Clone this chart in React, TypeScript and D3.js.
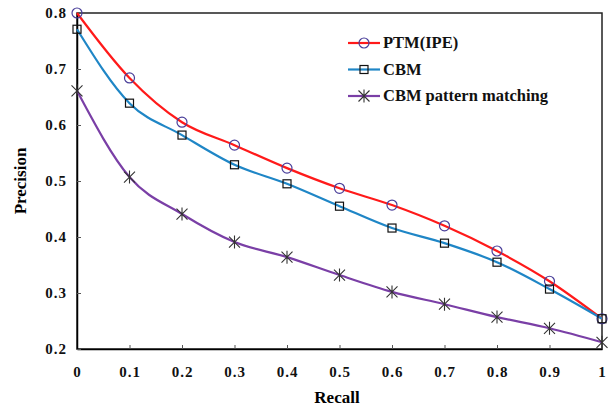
import React, { useRef, useEffect } from "react";
import * as d3 from "d3";

const recall = [0, 0.1, 0.2, 0.3, 0.4, 0.5, 0.6, 0.7, 0.8, 0.9, 1];
const ptm = [0.8, 0.684, 0.605, 0.564, 0.523, 0.487, 0.457, 0.42, 0.375, 0.321, 0.254];
const cbm = [0.771, 0.639, 0.582, 0.529, 0.495, 0.455, 0.416, 0.389, 0.355, 0.307, 0.254];
const cbmPattern = [0.661, 0.507, 0.441, 0.391, 0.364, 0.332, 0.302, 0.28, 0.257, 0.237, 0.212];
const yTicks = [0.2, 0.3, 0.4, 0.5, 0.6, 0.7, 0.8];
const seriesNames = ["PTM(IPE)", "CBM", "CBM pattern matching"];

const App = () => {
  const ref = useRef<SVGSVGElement>(null);

  useEffect(() => {
    const width = 612;
    const height = 407;
    const m = { left: 77, right: 10, top: 13, bottom: 58 };

    const svg = d3.select(ref.current);
    svg.selectAll("*").remove();

    const x = d3.scaleLinear().domain([0, 1]).range([m.left, width - m.right]);
    const y = d3.scaleLinear().domain([0.2, 0.8]).range([height - m.bottom, m.top]);

    const font = "'Liberation Serif', 'Times New Roman', serif";

    // frame
    svg
      .append("rect")
      .attr("x", x(0))
      .attr("y", y(0.8))
      .attr("width", x(1) - x(0))
      .attr("height", y(0.2) - y(0.8))
      .attr("fill", "none")
      .attr("stroke", "#222")
      .attr("stroke-width", 1.5);

    // axes
    const xAxis = svg
      .append("g")
      .attr("transform", `translate(0,${y(0.2)})`)
      .call(
        d3
          .axisBottom(x)
          .tickValues(recall)
          .tickSizeInner(-4)
          .tickSizeOuter(0)
          .tickPadding(17)
          .tickFormat((d) => d3.format("")(+(+d).toFixed(1)))
      );
    const yAxis = svg
      .append("g")
      .attr("transform", `translate(${x(0)},0)`)
      .call(
        d3
          .axisLeft(y)
          .tickValues(yTicks)
          .tickSizeInner(-4)
          .tickSizeOuter(0)
          .tickPadding(10)
          .tickFormat(d3.format(".1f"))
      );
    [xAxis, yAxis].forEach((a) => {
      a.select(".domain").attr("stroke", "#000").attr("stroke-width", 1.5);
      a.selectAll(".tick line").attr("stroke", "#555");
      a.selectAll("text")
        .attr("fill", "#111")
        .style("font-family", font)
        .style("font-size", "15px")
        .style("letter-spacing", "1px")
        .style("font-weight", "bold");
    });

    svg
      .append("text")
      .attr("x", 137)
      .attr("y", 403)
      .attr("text-anchor", "middle")
      .attr("transform", "translate(200,0)")
      .style("font-family", font)
      .style("font-size", "17px")
      .style("font-weight", "bold")
      .text("Recall");
    svg
      .append("text")
      .attr("transform", `translate(26,${(y(0.2) + y(0.8)) / 2}) rotate(-90)`)
      .attr("text-anchor", "middle")
      .style("font-family", font)
      .style("font-size", "17px")
      .style("font-weight", "bold")
      .text("Precision");

    const series = [
      { name: seriesNames[0], values: ptm, color: "#ff1a1a", marker: "circle" },
      { name: seriesNames[1], values: cbm, color: "#1f86c6", marker: "square" },
      { name: seriesNames[2], values: cbmPattern, color: "#7a3fa6", marker: "star" },
    ];

    const line = d3
      .line<number>()
      .x((_, i) => x(recall[i]))
      .y((d) => y(d))
      .curve(d3.curveMonotoneX);

    const drawMarker = (g: any, type: string, cx: number, cy: number) => {
      if (type === "circle") {
        g.append("circle")
          .attr("cx", cx)
          .attr("cy", cy)
          .attr("r", 5)
          .attr("fill", "none")
          .attr("stroke", "#4a3f9a")
          .attr("stroke-width", 1.2);
      } else if (type === "square") {
        g.append("rect")
          .attr("x", cx - 4)
          .attr("y", cy - 4)
          .attr("width", 8)
          .attr("height", 8)
          .attr("fill", "none")
          .attr("stroke", "#111")
          .attr("stroke-width", 1.2);
      } else {
        const s = 5.5;
        g.append("path")
          .attr(
            "d",
            `M${cx - s},${cy - s}L${cx + s},${cy + s}M${cx - s},${cy + s}L${cx + s},${cy - s}M${cx},${cy - s - 1}L${cx},${cy + s + 1}`
          )
          .attr("stroke", "#333")
          .attr("stroke-width", 1.1);
      }
    };

    series.forEach((s) => {
      svg
        .append("path")
        .datum(s.values)
        .attr("d", line)
        .attr("fill", "none")
        .attr("stroke", s.color)
        .attr("stroke-width", 2.2);
    });
    series.forEach((s) => {
      const g = svg.append("g");
      s.values.forEach((v, i) => drawMarker(g, s.marker, x(recall[i]), y(v)));
    });

    // legend
    const legend = svg.append("g");
    series.forEach((s, i) => {
      const ly = 43 + i * 26.5;
      legend
        .append("line")
        .attr("x1", 348)
        .attr("x2", 380)
        .attr("y1", ly)
        .attr("y2", ly)
        .attr("stroke", s.color)
        .attr("stroke-width", 2.2);
      drawMarker(legend, s.marker, 364, ly);
      legend
        .append("text")
        .attr("x", 383)
        .attr("y", ly + 5)
        .style("font-family", font)
        .style("font-size", "16.5px")
        .style("font-weight", "bold")
        .attr("fill", "#111")
        .text(s.name);
    });
  }, []);

  return (
    <svg
      ref={ref}
      width={612}
      height={407}
      style={{ position: "absolute", left: 0, top: 0, background: "#fff" }}
    ></svg>
  );
};

export default App;
